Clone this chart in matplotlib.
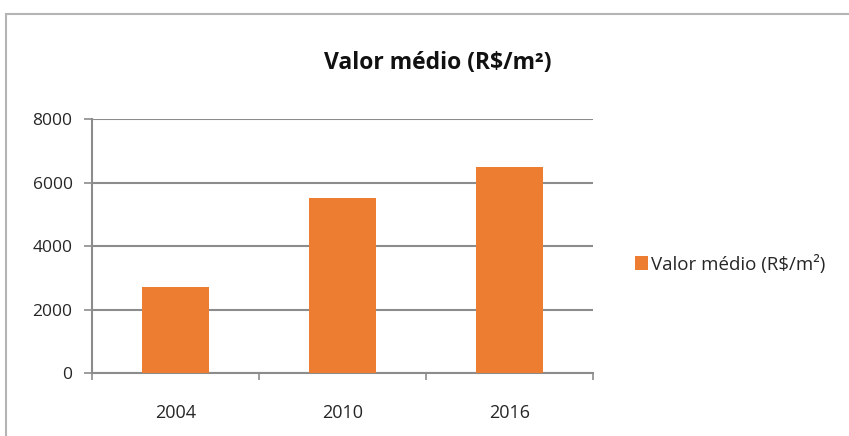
import matplotlib.pyplot as plt
from matplotlib.patches import Rectangle
import numpy as np

plt.rcParams['font.family'] = ['Open Sans', 'DejaVu Sans']

# data
years = ['2004', '2010', '2016']
valor_medio = [2720, 5500, 6500]
yticks = [0, 2000, 4000, 6000, 8000]
title = 'Valor médio (R$/m²)'

W, H = 849, 436
fig = plt.figure(figsize=(W/100, H/100), dpi=100)
fig.patch.set_facecolor('white')

# outer chart frame (cropped at right and bottom)
fig.patches.append(Rectangle((6/W, -0.1), 1.2, 1.1 - 14/H, transform=fig.transFigure,
                             fill=False, edgecolor='#b4b4b4', lw=1.5))

ax = fig.add_axes([92/W, 1-373/H, (593-92)/W, (373-119)/H])
x = np.arange(len(years))
ax.bar(x, valor_medio, width=0.4, color='#ED7D31', label=title, zorder=3)

ax.set_xlim(-0.5, 2.5)
ax.set_ylim(0, 8000)
ax.set_yticks(yticks)
ax.set_xticks(x)
ax.set_xticklabels(years)
ax.set_xticks([-0.5, 0.5, 1.5, 2.5], minor=True)
ax.tick_params(axis='x', which='major', length=0, pad=22, labelsize=13, labelcolor='#262626')
ax.tick_params(axis='x', which='minor', length=5, width=1.2, color='#8c8c8c', direction='out')
ax.tick_params(axis='y', length=6, width=1.2, color='#8c8c8c', pad=8, labelsize=12.5, labelcolor='#262626')

ax.grid(axis='y', color='#8c8c8c', lw=1.5, zorder=0)
for s in ['top', 'right']:
    ax.spines[s].set_visible(False)
for s in ['left', 'bottom']:
    ax.spines[s].set_color('#8c8c8c')
    ax.spines[s].set_linewidth(1.5)

fig.text(438/W, 1-63/H, title, ha='center', va='center', fontsize=16.5, fontweight='bold', color='#111111')

leg = ax.legend(loc='center left', bbox_to_anchor=(622/W, 1-264/H), bbox_transform=fig.transFigure,
                frameon=False, fontsize=13.5, handlelength=0.7, handleheight=0.7, handletextpad=0.15,
                borderpad=0.2)
for t in leg.get_texts():
    t.set_color('#262626')

fig.savefig('out.png', dpi=100)
